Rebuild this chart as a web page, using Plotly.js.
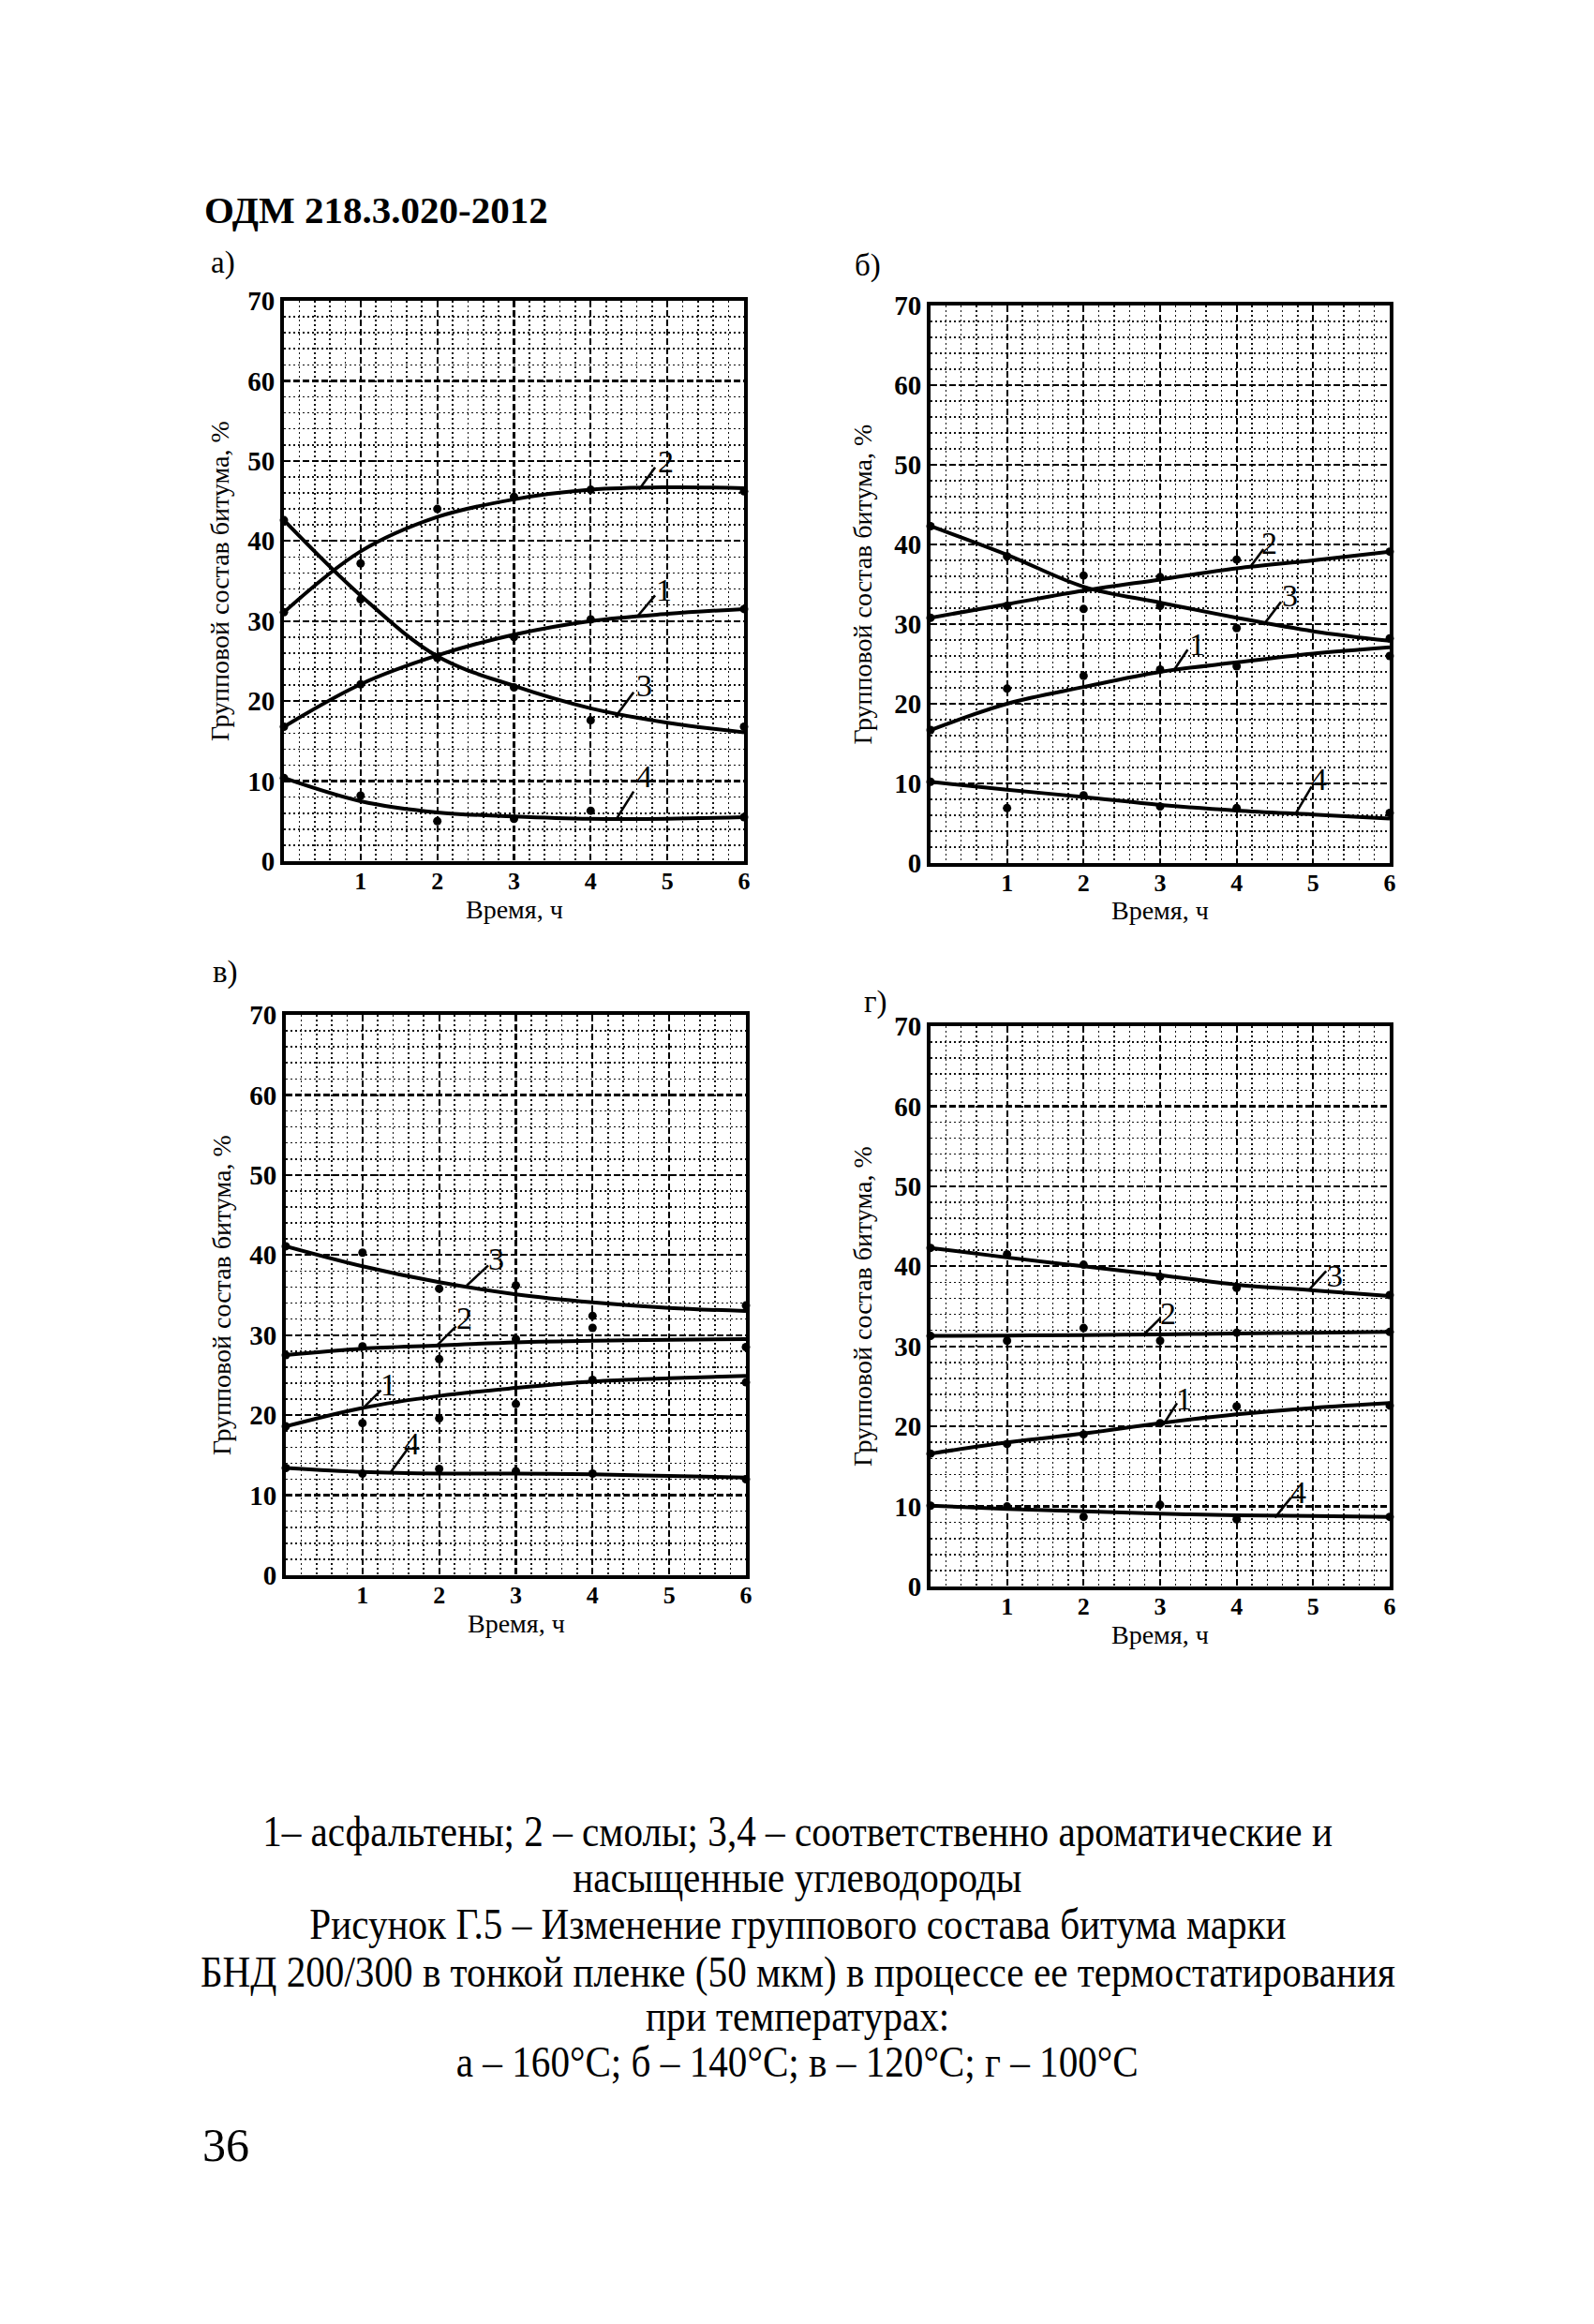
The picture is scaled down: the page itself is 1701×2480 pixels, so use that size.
<!DOCTYPE html>
<html>
<head>
<meta charset="utf-8">
<script src="https://cdn.plot.ly/plotly-3.0.1.min.js"></script>
<style>
html,body{margin:0;padding:0;background:#fff;}
#chart{width:1701px;height:2480px;}
</style>
</head>
<body>
<div id="chart"></div>
<script>
// ---------- DATA ----------
const curveTime = [0, 1, 2, 3, 4, 5, 6];      // h, fitted curves
const pointTime = [0, 1, 2, 3, 4, 6];         // h, measured points
const timeTicks = [1, 2, 3, 4, 5, 6];
const pctTicks = [0, 10, 20, 30, 40, 50, 60, 70];
const seriesNumbers = ['1', '2', '3', '4'];   // 1 asphaltenes, 2 resins, 3 aromatics, 4 saturates

// а) 160 °C
const a_fit_asph  = [16.8, 22.1, 25.7, 28.3, 30.0, 30.9, 31.5];
const a_fit_resin = [31.1, 38.7, 43.0, 45.2, 46.4, 46.7, 46.6];
const a_fit_arom  = [42.6, 33.2, 25.6, 21.9, 19.1, 17.3, 16.1];
const a_fit_sat   = [10.4, 7.5, 6.1, 5.6, 5.3, 5.3, 5.5];
const a_pt_asph   = [16.8, 22.1, 25.4, 28.0, 30.2, 31.5];
const a_pt_resin  = [31.1, 37.2, 44.0, 45.5, 46.4, 46.2];
const a_pt_arom   = [42.6, 32.7, 25.5, 21.7, 17.6, 16.8];
const a_pt_sat    = [10.4, 8.2, 5.0, 5.3, 6.3, 5.5];

// б) 140 °C
const b_fit_asph  = [16.7, 20.0, 22.1, 24.0, 25.2, 26.3, 27.1];
const b_fit_resin = [30.8, 32.5, 34.2, 35.6, 37.0, 38.0, 39.1];
const b_fit_arom  = [42.3, 38.7, 34.7, 32.7, 30.8, 29.1, 27.9];
const b_fit_sat   = [10.2, 9.2, 8.3, 7.3, 6.6, 6.1, 5.6];
const b_pt_asph   = [16.7, 21.9, 23.5, 24.3, 24.7, 26.0];
const b_pt_resin  = [30.8, 32.3, 36.1, 35.9, 38.1, 39.1];
const b_pt_arom   = [42.3, 38.5, 31.9, 32.3, 29.5, 28.2];
const b_pt_sat    = [10.2, 6.9, 8.5, 7.1, 6.9, 6.3];

// в) 120 °C
const v_fit_asph  = [18.6, 20.9, 22.4, 23.4, 24.2, 24.6, 24.9];
const v_fit_resin = [27.5, 28.3, 28.7, 29.1, 29.3, 29.4, 29.5];
const v_fit_arom  = [41.1, 38.6, 36.6, 35.1, 34.1, 33.4, 33.0];
const v_fit_sat   = [13.4, 12.9, 12.7, 12.7, 12.6, 12.4, 12.2];
const v_pt_asph   = [18.6, 19.0, 19.6, 21.4, 24.4, 24.1];
const v_pt_resin  = [27.5, 28.6, 27.0, 29.5, 30.9, 28.5];
const v_pt_arom   = [41.1, 40.3, 35.8, 36.2, 32.4, 33.7];
const v_pt_sat    = [13.4, 12.7, 13.3, 13.0, 12.7, 12.0];

// г) 100 °C
const g_fit_asph  = [16.6, 18.0, 19.1, 20.4, 21.5, 22.3, 22.9];
const g_fit_resin = [31.3, 31.35, 31.4, 31.5, 31.6, 31.7, 31.8];
const g_fit_arom  = [42.3, 41.1, 40.0, 38.9, 37.7, 37.0, 36.3];
const g_fit_sat   = [10.1, 9.7, 9.4, 9.1, 8.9, 8.8, 8.7];
const g_pt_asph   = [16.6, 17.8, 19.0, 20.4, 22.5, 22.6];
const g_pt_resin  = [31.3, 30.7, 32.3, 30.7, 31.7, 31.8];
const g_pt_arom   = [42.3, 41.5, 40.2, 38.7, 37.3, 36.4];
const g_pt_sat    = [10.1, 10.0, 8.7, 10.2, 8.4, 8.7];

// Series-number callouts (text position, leader line x0,y0,x1,y1) per panel, order 1..4
const a_callText = [[4.95, 33.9], [4.98, 49.9], [4.70, 22.0], [4.70, 10.6]];
const a_callLine = [[4.62, 30.7, 4.84, 33.2], [4.63, 46.4, 4.84, 49.2], [4.32, 18.0, 4.56, 21.1], [4.33, 5.2, 4.56, 8.7]];
const b_callText = [[3.48, 27.5], [4.43, 40.2], [4.69, 33.6], [5.08, 10.5]];
const b_callLine = [[3.18, 24.2, 3.36, 26.8], [4.18, 37.2, 4.35, 39.4], [4.35, 29.9, 4.58, 32.8], [4.77, 6.2, 4.98, 9.6]];
const v_callText = [[1.34, 23.8], [2.33, 32.1], [2.74, 39.5], [1.64, 16.5]];
const v_callLine = [[1.02, 21.0, 1.24, 23.1], [1.96, 28.6, 2.22, 31.1], [2.36, 36.2, 2.64, 38.7], [1.37, 12.9, 1.59, 15.8]];
const g_callText = [[3.31, 23.5], [3.11, 34.1], [5.28, 38.8], [4.80, 11.8]];
const g_callLine = [[3.04, 20.2, 3.22, 22.9], [2.78, 31.4, 3.00, 33.5], [4.94, 37.0, 5.17, 39.4], [4.50, 8.6, 4.71, 11.1]];

const panelLetters = ['а)', 'б)', 'в)', 'г)'];
const xTitle = 'Время, ч';
const yTitle = 'Групповой состав битума, %';
const pageHeader = 'ОДМ 218.3.020-2012';
const pageNumber = '36';
const captionLines = [
  '1– асфальтены; 2 – смолы; 3,4 – соответственно ароматические и',
  'насыщенные углеводороды',
  'Рисунок Г.5 – Изменение группового состава битума марки',
  'БНД 200/300 в тонкой пленке (50 мкм) в процессе ее термостатирования',
  'при температурах:',
  'а – 160°С; б – 140°С; в – 120°С; г – 100°С'
];

// ---------- BUILD ----------
const W = 1701, H = 2480;
const px = v => v / W;
const py = v => 1 - v / H;
const SERIF = 'Liberation Serif, Times New Roman, serif';

const panels = [
  {fits: [a_fit_asph, a_fit_resin, a_fit_arom, a_fit_sat], pts: [a_pt_asph, a_pt_resin, a_pt_arom, a_pt_sat],
   callText: a_callText, callLine: a_callLine, box: [303, 321, 794, 919], letter: [223, 280], ytitleX: 234},
  {fits: [b_fit_asph, b_fit_resin, b_fit_arom, b_fit_sat], pts: [b_pt_asph, b_pt_resin, b_pt_arom, b_pt_sat],
   callText: b_callText, callLine: b_callLine, box: [993, 326, 1483, 921], letter: [910, 284], ytitleX: 920},
  {fits: [v_fit_asph, v_fit_resin, v_fit_arom, v_fit_sat], pts: [v_pt_asph, v_pt_resin, v_pt_arom, v_pt_sat],
   callText: v_callText, callLine: v_callLine, box: [305, 1083, 796, 1681], letter: [225, 1038], ytitleX: 236},
  {fits: [g_fit_asph, g_fit_resin, g_fit_arom, g_fit_sat], pts: [g_pt_asph, g_pt_resin, g_pt_arom, g_pt_sat],
   callText: g_callText, callLine: g_callLine, box: [993, 1095, 1483, 1693], letter: [920, 1070], ytitleX: 920}
];

const traces = [];
const shapes = [];
const annotations = [];
const layout = {
  width: W, height: H,
  margin: {l: 0, r: 0, t: 0, b: 0},
  paper_bgcolor: '#ffffff', plot_bgcolor: '#ffffff',
  showlegend: false,
  font: {family: SERIF, color: '#000'},
  shapes, annotations
};

panels.forEach((p, i) => {
  const n = i === 0 ? '' : String(i + 1);
  const xa = 'x' + n, ya = 'y' + n;
  const [l, t, r, b] = p.box;
  layout['xaxis' + n] = {
    domain: [px(l), px(r)], anchor: ya, range: [0, 6],
    tickmode: 'array', tickvals: timeTicks, ticktext: timeTicks.map(String),
    ticks: '', ticklen: 0, ticklabelstandoff: -5,
    tickfont: {family: SERIF, size: 26, color: '#000', weight: 'bold'},
    showline: true, mirror: true, linecolor: '#000', linewidth: 4,
    showgrid: true, gridcolor: '#000', gridwidth: 2.2, griddash: '7px,3px',
    minor: {tick0: 0, dtick: 0.2, showgrid: true, gridcolor: '#111', gridwidth: 1.6, griddash: '2px,3px'},
    zeroline: false, fixedrange: true
  };
  layout['yaxis' + n] = {
    domain: [py(b), py(t)], anchor: xa, range: [0, 70],
    tickmode: 'array', tickvals: pctTicks, ticktext: pctTicks.map(String),
    ticks: '', ticklen: 0, ticklabelstandoff: 0,
    tickfont: {family: SERIF, size: 29, color: '#000', weight: 'bold'},
    showline: true, mirror: true, linecolor: '#000', linewidth: 4,
    showgrid: true, gridcolor: '#000', gridwidth: 2.2, griddash: '7px,3px',
    minor: {tick0: 0, dtick: 2, showgrid: true, gridcolor: '#111', gridwidth: 1.6, griddash: '2px,3px'},
    zeroline: false, fixedrange: true
  };

  p.fits.forEach((ys, k) => {
    traces.push({
      type: 'scatter', mode: 'lines', x: curveTime, y: ys, xaxis: xa, yaxis: ya,
      line: {color: '#000', width: 4, shape: 'spline', smoothing: 1},
      name: seriesNumbers[k], hoverinfo: 'skip', cliponaxis: false
    });
  });
  p.pts.forEach((ys, k) => {
    traces.push({
      type: 'scatter', mode: 'markers', x: pointTime, y: ys, xaxis: xa, yaxis: ya,
      marker: {color: '#000', size: 9, symbol: 'circle'},
      name: seriesNumbers[k] + ' (опыт)', cliponaxis: false
    });
  });

  p.callLine.forEach(c => {
    shapes.push({type: 'line', xref: xa, yref: ya, x0: c[0], y0: c[1], x1: c[2], y1: c[3],
      line: {color: '#000', width: 2.6}});
  });
  p.callText.forEach((c, k) => {
    annotations.push({xref: xa, yref: ya, x: c[0], y: c[1], text: seriesNumbers[k], showarrow: false,
      xanchor: 'center', yanchor: 'middle', font: {family: SERIF, size: 34, color: '#000'}});
  });

  // axis titles
  annotations.push({xref: 'paper', yref: 'paper', x: px((l + r) / 2), y: py(b + 51), text: xTitle,
    showarrow: false, xanchor: 'center', yanchor: 'middle', font: {family: SERIF, size: 28, color: '#000'}});
  annotations.push({xref: 'paper', yref: 'paper', x: px(p.ytitleX), y: py((t + b) / 2), text: yTitle,
    textangle: -90, showarrow: false, xanchor: 'center', yanchor: 'middle', font: {family: SERIF, size: 28, color: '#000'}});
  // panel letter
  annotations.push({xref: 'paper', yref: 'paper', x: px(p.letter[0]), y: py(p.letter[1]), text: panelLetters[i],
    showarrow: false, xanchor: 'left', yanchor: 'middle', font: {family: SERIF, size: 33, color: '#000'}});
});

// page header, caption, page number
annotations.push({xref: 'paper', yref: 'paper', x: px(216), y: py(224), text: '<b>' + pageHeader + '</b>',
  showarrow: false, xanchor: 'left', yanchor: 'middle', font: {family: SERIF, size: 41, color: '#000'}});
const captionY = [1954, 2003, 2053, 2104, 2151, 2200];
const captionStart = annotations.length;
captionLines.forEach((s, k) => {
  annotations.push({xref: 'paper', yref: 'paper', x: px(851), y: py(captionY[k]), text: s,
    showarrow: false, xanchor: 'center', yanchor: 'middle', font: {family: SERIF, size: 46, color: '#000'}});
});
annotations.push({xref: 'paper', yref: 'paper', x: px(214), y: py(2289), text: pageNumber,
  showarrow: false, xanchor: 'left', yanchor: 'middle', font: {family: SERIF, size: 50, color: '#000'}});

Plotly.newPlot('chart', traces, layout, {staticPlot: true, displayModeBar: false}).then(gd => {
  // the printed caption uses a narrow serif: compress the caption lines horizontally
  const texts = gd.querySelectorAll('.annotation-text');
  for (let k = captionStart; k < captionStart + captionLines.length; k++) {
    const el = texts[k];
    if (!el) continue;
    const bb = el.getBBox();
    const cx = bb.x + bb.width / 2;
    el.setAttribute('transform', `translate(${cx},0) scale(0.895,1) translate(${-cx},0)`);
  }
});
</script>
</body>
</html>
